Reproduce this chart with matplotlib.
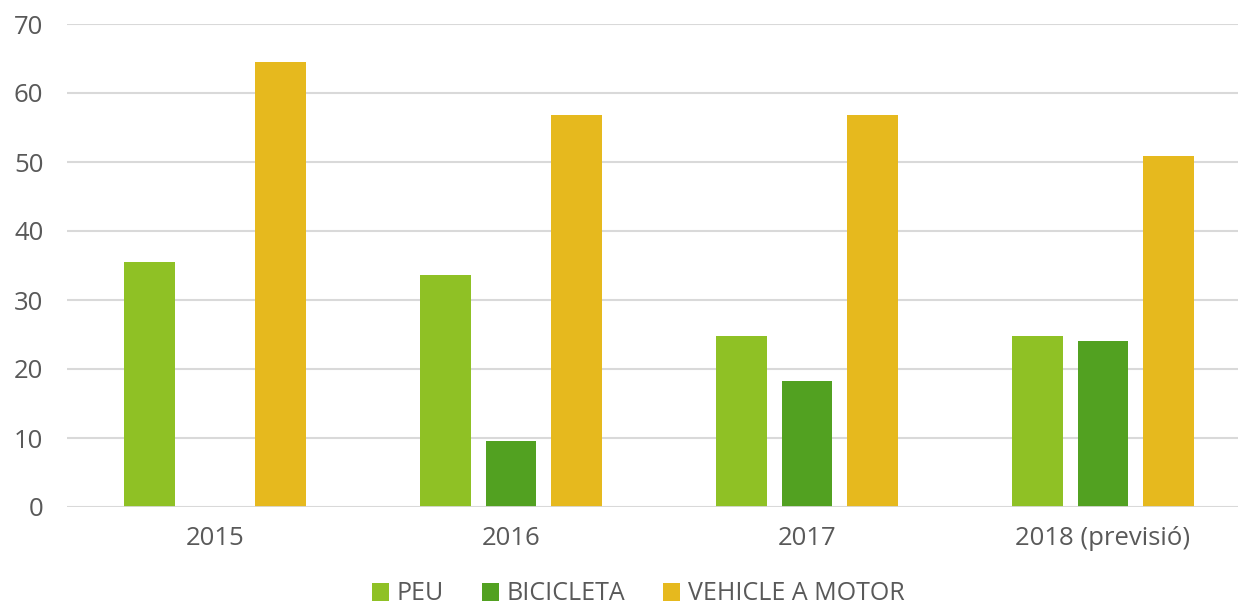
import matplotlib
matplotlib.use("Agg")
import matplotlib.pyplot as plt
import numpy as np

categories = ["2015", "2016", "2017", "2018 (previsió)"]
series_names = ["PEU", "BICICLETA", "VEHICLE A MOTOR"]
peu = [35.5, 33.6, 24.8, 24.8]
bicicleta = [0, 9.5, 18.2, 24.1]
vehicle = [64.5, 56.8, 56.8, 50.9]
colors = ["#8fc125", "#52a121", "#e6b91e"]
yticks = [0, 10, 20, 30, 40, 50, 60, 70]

plt.rcParams['font.family'] = ['Open Sans', 'DejaVu Sans']
text_color = "#595959"

fig = plt.figure(figsize=(12.38, 6.08), dpi=100)
ax = fig.add_axes([67/1238, 101/608, 1184/1238, 483/608])

x = np.arange(len(categories))
bw = 0.172
step = 0.221
for i, (vals, name, c) in enumerate(zip([peu, bicicleta, vehicle], series_names, colors)):
    ax.bar(x + (i - 1) * step, vals, width=bw, color=c, label=name, zorder=3)

ax.set_xlim(-0.5, 3.5)
ax.set_ylim(0, 70)
ax.set_yticks(yticks)
ax.set_xticks(x)
ax.set_xticklabels(categories)
ax.yaxis.grid(True, color="#d9d9d9", linewidth=1.5, zorder=0)
ax.axhline(0, color="#d9d9d9", linewidth=2, zorder=4)
for s in ax.spines.values():
    s.set_visible(False)
ax.tick_params(axis='both', length=0, labelsize=18.5, colors=text_color)
ax.tick_params(axis='y', pad=17)
ax.tick_params(axis='x', pad=14)

leg = fig.legend(loc='center', bbox_to_anchor=(638/1238, 14/608), ncol=3, frameon=False,
                 fontsize=18, handlelength=0.7, handleheight=0.7, handletextpad=0.3,
                 columnspacing=1.5)
for t in leg.get_texts():
    t.set_color(text_color)

fig.savefig("out.png", dpi=100)
